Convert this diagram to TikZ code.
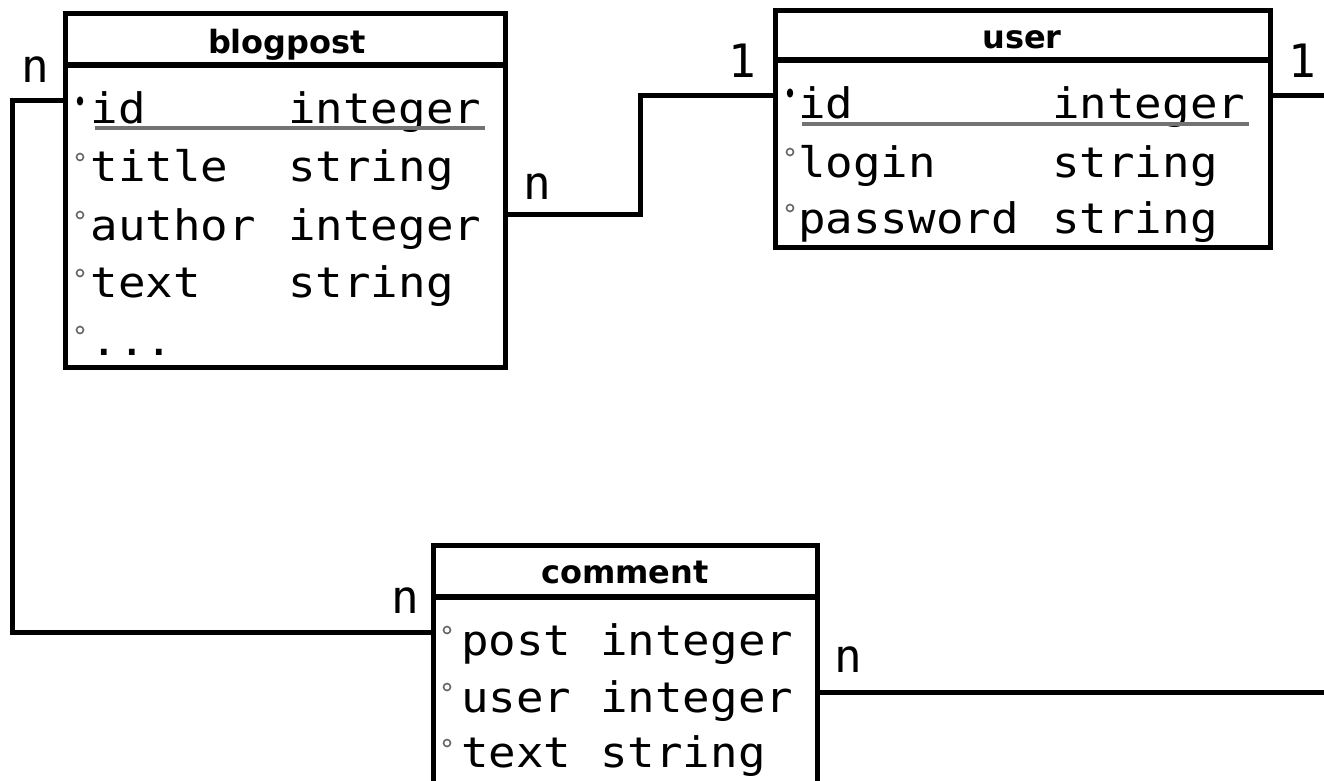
\documentclass[tikz,border=0pt]{standalone}
\usepackage{fontspec}
\usetikzlibrary{calc}
\newfontfamily\monof[FakeStretch=1.09]{DejaVu Sans Mono}
\newfontfamily\labf{DejaVu Sans Mono}
\newfontfamily\headf{DejaVu Sans}
\begin{document}
\begin{tikzpicture}[x=1pt,y=-1pt,
  entity/.style={draw, line width=5pt, inner sep=0pt, outer sep=0pt, anchor=north west, fill=white},
  hdrline/.style={line width=5.5pt},
  hdrtext/.style={font=\headf\bfseries\fontsize{32}{32}\selectfont, anchor=base, inner sep=0pt},
  fieldtxt/.style={font=\monof\fontsize{42}{42}\selectfont, anchor=base west, inner sep=0pt},
  cardlab/.style={font=\labf\fontsize{46}{46}\selectfont, anchor=base, inner sep=0pt},
  conn/.style={line width=5pt},
  pkline/.style={line width=3.5pt, black!55},
  hollow/.style={draw=black!60, line width=1.6pt, fill=white},
  pkdot/.style={fill=black}
]
\useasboundingbox (0,0) rectangle (1324,780);
\clip (0,0) rectangle (1324,780);

% ---------- entity boxes ----------
\node[entity, minimum width=440pt, minimum height=354pt] (blog) at (65,13) {};
\node[entity, minimum width=495pt, minimum height=237pt] (usr) at (775,10) {};
\node[entity, minimum width=384pt, minimum height=300pt] (comm) at (433,545) {};

% header separators
\draw[hdrline] ($(blog.north west)+(0,52)$) -- ($(blog.north east)+(0,52)$);
\draw[hdrline] ($(usr.north west)+(0,50)$) -- ($(usr.north east)+(0,50)$);
\draw[hdrline] ($(comm.north west)+(0,52)$) -- ($(comm.north east)+(0,52)$);

% header titles
\node[hdrtext] (blogT) at (287,53) {blogpost};
\node[hdrtext] (usrT) at (1022,48) {user};
\node[hdrtext] (commT) at (625,583) {comment};

% ---------- blogpost fields ----------
\fill[pkdot] (80,101) ellipse (3.2 and 4.6);
\node[fieldtxt] (b1n) at (90.5,123) {id};
\node[fieldtxt] (b1t) at (288,123) {integer};
\draw[pkline] (95,128) -- (485,128);
\draw[hollow] (80,157) circle (3.5);
\node[fieldtxt] (b2n) at (90.5,181) {title};
\node[fieldtxt] (b2t) at (288,181) {string};
\draw[hollow] (80,215) circle (3.5);
\node[fieldtxt] (b3n) at (90.5,240) {author};
\node[fieldtxt] (b3t) at (288,240) {integer};
\draw[hollow] (80,273) circle (3.5);
\node[fieldtxt] (b4n) at (90.5,297) {text};
\node[fieldtxt] (b4t) at (288,297) {string};
\draw[hollow] (80,330) circle (3.5);
\node[fieldtxt] (b5n) at (90.5,355) {...};

% ---------- user fields ----------
\fill[pkdot] (790,93) ellipse (3.2 and 4.6);
\node[fieldtxt] (u1n) at (798,118) {id};
\node[fieldtxt] (u1t) at (1052,118) {integer};
\draw[pkline] (802,124) -- (1249,124);
\draw[hollow] (790,152) circle (3.5);
\node[fieldtxt] (u2n) at (798,177) {login};
\node[fieldtxt] (u2t) at (1052,177) {string};
\draw[hollow] (790,208) circle (3.5);
\node[fieldtxt] (u3n) at (798,233) {password};
\node[fieldtxt] (u3t) at (1052,233) {string};

% ---------- comment fields ----------
\draw[hollow] (447,630) circle (3.5);
\node[fieldtxt] (c1n) at (461,655) {post};
\node[fieldtxt] (c1t) at (600,655) {integer};
\draw[hollow] (447,687) circle (3.5);
\node[fieldtxt] (c2n) at (461,712) {user};
\node[fieldtxt] (c2t) at (600,712) {integer};
\draw[hollow] (447,743) circle (3.5);
\node[fieldtxt] (c3n) at (461,767) {text};
\node[fieldtxt] (c3t) at (600,767) {string};

% ---------- connectors ----------
\coordinate (edgeA) at (1330,95);
\coordinate (edgeB) at (1330,692);
\draw[conn] ($(blog.north east)+(0,201)$) -- ++(135,0) |- ($(usr.north west)+(0,85)$);
\draw[conn] ($(usr.north east)+(0,85)$) -- (edgeA);
\draw[conn] ($(blog.north west)+(0,87)$) -- ++(-53,0) |- ($(comm.north west)+(0,87)$);
\draw[conn] ($(comm.north east)+(0,147)$) -- (edgeB);

% ---------- cardinality labels ----------
\node[cardlab] (l1) at (537,199) {n};
\node[cardlab] (l2) at (742,77) {1};
\node[cardlab] (l3) at (1302,77) {1};
\node[cardlab] (l4) at (35,82) {n};
\node[cardlab] (l5) at (405,613) {n};
\node[cardlab] (l6) at (848,672) {n};
\end{tikzpicture}
\end{document}
